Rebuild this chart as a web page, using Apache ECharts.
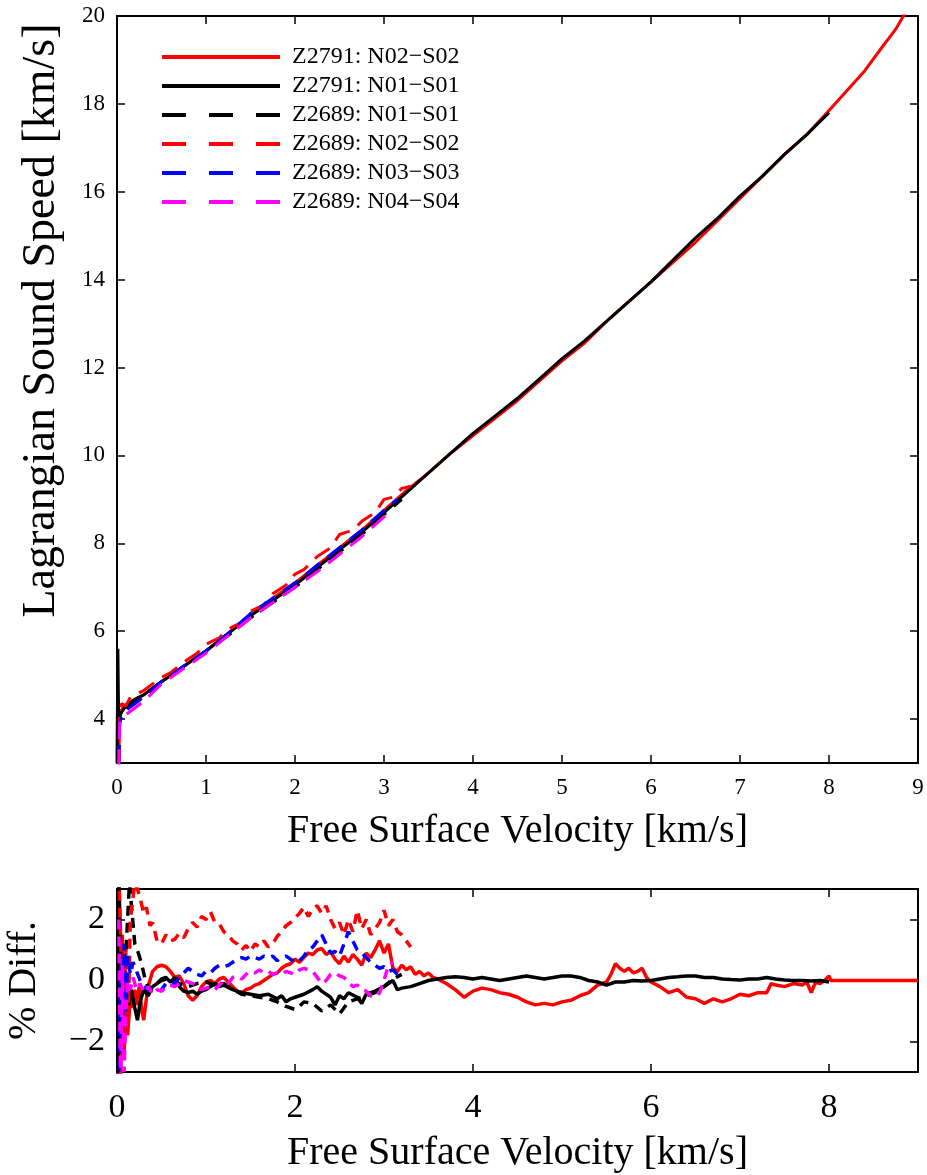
<!DOCTYPE html>
<html>
<head>
<meta charset="utf-8">
<script src="https://cdn.jsdelivr.net/npm/echarts@6/dist/echarts.min.js"></script>
<style>
  html, body { margin: 0; padding: 0; background: #fff; }
  #main { width: 927px; height: 1175px; }
</style>
</head>
<body>
<div id="main"></div>
<script>
// series names (legend order = plot order)
var names = ['Z2791: N02\u2212S02', 'Z2791: N01\u2212S01', 'Z2689: N01\u2212S01',
             'Z2689: N02\u2212S02', 'Z2689: N03\u2212S03', 'Z2689: N04\u2212S04'];
var colors = ['#ff0000', '#000000', '#000000', '#ff0000', '#0000ff', '#ff00ff'];
var dashed = [false, false, true, true, true, true];

// tick labels
var topXTicks = [0, 1, 2, 3, 4, 5, 6, 7, 8, 9];
var topYTicks = [4, 6, 8, 10, 12, 14, 16, 18, 20];
var botXTicks = [0, 2, 4, 6, 8];
var botYTicks = [-2, 0, 2];

// ---- top panel: Lagrangian sound speed vs free surface velocity ----
var zRedX = [0.02,0.03,0.05,0.08,0.1,0.2,0.3,0.4,0.5,0.75,1.0,1.25,1.5,1.75,2.0,2.25,2.5,2.75,3.0,3.25,3.5,3.75,4.0,4.25,4.5,4.75,5.0,5.25,5.5,5.75,6.0,6.25,6.5,6.75,7.0,7.25,7.5,7.75,8.0,8.2,8.4,8.6,8.75,8.85];
var zRedY = [3.0,4.0,4.2,4.3,4.3,4.45,4.55,4.7,4.85,5.2,5.55,5.95,6.35,6.75,7.1,7.5,7.9,8.3,8.75,9.2,9.6,10.05,10.45,10.85,11.25,11.7,12.15,12.55,13.05,13.5,13.95,14.4,14.85,15.35,15.85,16.35,16.85,17.3,17.85,18.3,18.75,19.3,19.7,20.05];

var zBlkX = [0.0,0.01,0.015,0.02,0.05,0.1,0.2,0.3,0.5,0.75,1.0,1.25,1.5,1.75,2.0,2.25,2.5,2.75,3.0,3.25,3.5,3.75,4.0,4.25,4.5,4.75,5.0,5.25,5.5,5.75,6.0,6.25,6.5,6.75,7.0,7.25,7.5,7.75,8.0];
var zBlkY = [3.0,5.6,4.6,4.0,4.15,4.3,4.45,4.55,4.85,5.2,5.55,5.95,6.35,6.7,7.05,7.45,7.85,8.25,8.7,9.15,9.6,10.05,10.5,10.9,11.3,11.75,12.2,12.6,13.05,13.5,13.95,14.45,14.95,15.4,15.9,16.35,16.85,17.3,17.8];

var aBlkX = [0.02,0.03,0.05,0.1,0.2,0.3,0.5,0.75,1.0,1.25,1.5,1.75,2.0,2.25,2.5,2.75,3.0,3.2];
var aBlkY = [3.0,3.95,4.1,4.25,4.4,4.55,4.85,5.2,5.55,5.9,6.3,6.65,7.0,7.4,7.8,8.2,8.65,9.0];

var aRedX = [0.02,0.03,0.05,0.1,0.15,0.2,0.3,0.4,0.5,0.6,0.75,0.9,1.0,1.15,1.25,1.4,1.5,1.65,1.75,1.9,2.0,2.1,2.25,2.4,2.5,2.65,2.75,2.9,3.0,3.1,3.2,3.3];
var aRedY = [3.0,4.1,4.35,4.3,4.5,4.55,4.65,4.8,4.95,5.05,5.3,5.5,5.7,5.85,6.05,6.2,6.45,6.6,6.85,7.05,7.3,7.4,7.7,7.9,8.2,8.3,8.5,8.7,9.0,9.05,9.25,9.3];

var aBluX = [0.02,0.03,0.05,0.1,0.2,0.3,0.5,0.75,1.0,1.25,1.5,1.75,2.0,2.25,2.5,2.75,3.0,3.15];
var aBluY = [3.0,3.9,4.05,4.2,4.35,4.5,4.85,5.2,5.55,5.95,6.4,6.75,7.1,7.5,7.9,8.3,8.75,9.0];

var aMagX = [0.02,0.025,0.03,0.05,0.1,0.2,0.3,0.5,0.75,1.0,1.25,1.5,1.75,2.0,2.25,2.5,2.75,3.0,3.05];
var aMagY = [2.9,3.6,3.9,4.0,4.1,4.25,4.4,4.8,5.15,5.5,5.9,6.3,6.65,7.0,7.35,7.75,8.15,8.6,8.7];

// ---- bottom panel: % difference ----
var dRedX = [0.02,0.04,0.06,0.08,0.1,0.12,0.15,0.18,0.2,0.22,0.25,0.28,0.3,0.33,0.36,0.4,0.45,0.5,0.55,0.6,0.65,0.7,0.75,0.8,0.85,0.9,0.95,1.0,1.05,1.1,1.15,1.2,1.25,1.3,1.35,1.4,1.45,1.5,1.55,1.6,1.65,1.7,1.75,1.8,1.85,1.9,1.95,2.0,2.05,2.1,2.15,2.2,2.25,2.3,2.35,2.4,2.45,2.5,2.55,2.6,2.65,2.7,2.75,2.8,2.85,2.9,2.95,3.0,3.05,3.1,3.15,3.2,3.25,3.3,3.35,3.4,3.45,3.5,3.55,3.6,3.7,3.8,3.9,4.0,4.1,4.2,4.3,4.4,4.5,4.6,4.7,4.8,4.9,5.0,5.1,5.2,5.3,5.4,5.5,5.55,5.6,5.65,5.7,5.75,5.8,5.85,5.9,5.95,6.0,6.1,6.2,6.3,6.4,6.5,6.6,6.7,6.8,6.9,7.0,7.1,7.2,7.3,7.35,7.4,7.5,7.6,7.7,7.75,7.8,7.85,7.9,7.95,8.0,8.02,9.0];
var dRedY = [3.5,-3.5,1.5,-2.5,0.3,-1.8,-0.5,-0.9,-0.3,-0.8,-0.2,-1.0,-1.3,-0.6,-0.1,0.3,0.45,0.5,0.45,0.3,0.1,0.15,-0.1,-0.5,-0.65,-0.5,-0.2,-0.05,0.0,-0.1,0.05,0.1,-0.05,-0.2,-0.35,-0.4,-0.3,-0.25,-0.15,-0.1,0.0,0.1,0.2,0.25,0.4,0.5,0.55,0.7,0.6,0.75,0.9,0.85,1.0,1.05,0.85,0.95,0.7,0.55,0.8,0.6,0.85,0.7,0.5,0.9,0.75,1.0,1.3,0.9,1.2,0.4,0.3,0.5,0.35,0.45,0.2,0.3,0.15,0.25,0.1,0.05,-0.1,-0.3,-0.55,-0.35,-0.25,-0.3,-0.4,-0.45,-0.55,-0.7,-0.8,-0.75,-0.8,-0.7,-0.65,-0.5,-0.4,-0.15,-0.05,0.2,0.55,0.4,0.3,0.4,0.25,0.3,0.4,0.1,-0.05,-0.2,-0.4,-0.3,-0.55,-0.6,-0.75,-0.6,-0.7,-0.6,-0.45,-0.5,-0.4,-0.4,-0.1,-0.15,-0.2,-0.1,-0.15,-0.05,-0.4,-0.05,-0.1,0.0,0.15,0.0,0.0];

var dBlkX = [0.01,0.02,0.04,0.06,0.08,0.1,0.13,0.16,0.2,0.23,0.26,0.3,0.35,0.4,0.45,0.5,0.55,0.6,0.65,0.7,0.75,0.8,0.85,0.9,0.95,1.0,1.05,1.1,1.15,1.2,1.3,1.4,1.5,1.6,1.7,1.8,1.85,1.9,1.95,2.0,2.1,2.2,2.25,2.3,2.4,2.45,2.5,2.55,2.6,2.7,2.75,2.8,2.9,3.0,3.05,3.1,3.15,3.2,3.3,3.4,3.5,3.6,3.7,3.8,3.9,4.0,4.1,4.2,4.3,4.4,4.5,4.6,4.7,4.8,4.9,5.0,5.1,5.2,5.3,5.4,5.5,5.6,5.7,5.8,5.9,6.0,6.1,6.2,6.3,6.4,6.5,6.6,6.7,6.8,6.9,7.0,7.1,7.2,7.3,7.4,7.5,7.6,7.7,7.8,7.9,8.0];
var dBlkY = [-3.5,3.5,1.0,-1.0,0.5,-0.3,-0.8,-0.3,-0.9,-1.3,-0.7,-0.3,-0.5,-0.2,-0.1,0.05,0.1,-0.05,0.1,-0.2,-0.35,-0.4,-0.35,-0.45,-0.35,-0.3,-0.2,-0.1,-0.2,-0.15,-0.3,-0.4,-0.45,-0.5,-0.45,-0.6,-0.5,-0.7,-0.6,-0.55,-0.45,-0.3,-0.2,-0.35,-0.55,-0.8,-0.5,-0.6,-0.4,-0.55,-0.75,-0.45,-0.35,-0.2,-0.1,0.0,-0.3,-0.25,-0.2,-0.1,0.0,0.05,0.1,0.12,0.1,0.05,0.1,0.05,0.0,0.05,0.1,0.15,0.1,0.05,0.1,0.15,0.15,0.1,0.0,-0.05,-0.15,-0.05,-0.05,0.0,-0.02,0.0,0.05,0.1,0.12,0.15,0.15,0.1,0.1,0.05,0.03,0.02,0.05,0.05,0.1,0.05,0.02,0.0,0.0,-0.02,0.0,-0.05];

var dBkdX = [0.02,0.05,0.08,0.11,0.14,0.17,0.2,0.24,0.28,0.32,0.36,0.4,0.45,0.5,0.55,0.6,0.7,0.8,0.9,1.0,1.1,1.2,1.3,1.4,1.5,1.6,1.7,1.8,1.9,2.0,2.05,2.1,2.2,2.3,2.35,2.4,2.5,2.55,2.6,2.7,2.8,2.9,3.0,3.1,3.2];
var dBkdY = [-2.0,0.5,-0.5,1.5,3.2,2.2,1.2,0.9,0.5,0.0,-0.3,-0.2,-0.1,0.0,0.05,-0.05,-0.1,-0.2,-0.1,-0.05,-0.15,-0.1,-0.3,-0.45,-0.5,-0.55,-0.6,-0.7,-0.85,-0.95,-0.85,-0.7,-0.75,-1.0,-0.9,-0.8,-1.1,-0.9,-0.7,-0.6,-0.5,-0.4,-0.2,0.05,0.2];

var dRdX = [0.02,0.05,0.08,0.1,0.13,0.15,0.2,0.23,0.26,0.3,0.33,0.37,0.4,0.45,0.5,0.55,0.6,0.65,0.7,0.75,0.8,0.85,0.9,0.95,1.0,1.05,1.1,1.15,1.2,1.25,1.3,1.35,1.4,1.45,1.5,1.55,1.6,1.65,1.7,1.75,1.8,1.85,1.9,1.95,2.0,2.05,2.1,2.15,2.2,2.25,2.3,2.35,2.4,2.45,2.5,2.55,2.6,2.65,2.7,2.75,2.8,2.85,2.9,2.95,3.0,3.05,3.1,3.15,3.2,3.25,3.3];
var dRdY = [3.5,0.5,-1.5,1.0,-0.8,2.0,3.2,3.0,2.7,2.2,2.4,1.8,1.9,1.3,1.2,1.5,1.3,1.35,1.55,1.4,1.7,1.9,1.75,2.1,2.0,2.25,1.9,1.85,1.6,1.5,1.3,1.2,1.0,1.15,0.95,1.2,1.1,1.3,1.1,1.2,1.45,1.6,1.8,1.9,2.05,2.2,2.4,2.1,2.35,2.45,2.2,2.45,2.0,1.7,1.9,1.5,2.0,1.6,2.3,1.7,2.0,1.5,1.7,1.9,2.3,1.8,2.0,1.6,1.5,1.3,1.1];

var dBluX = [0.02,0.04,0.06,0.08,0.1,0.12,0.15,0.18,0.22,0.26,0.3,0.35,0.4,0.45,0.5,0.55,0.6,0.65,0.7,0.75,0.8,0.85,0.9,0.95,1.0,1.05,1.1,1.15,1.2,1.25,1.3,1.35,1.4,1.45,1.5,1.55,1.6,1.65,1.7,1.75,1.8,1.85,1.9,1.95,2.0,2.05,2.1,2.15,2.2,2.25,2.3,2.35,2.4,2.45,2.5,2.55,2.6,2.65,2.7,2.75,2.8,2.85,2.9,2.95,3.0,3.05,3.1,3.15,3.2];
var dBluY = [-3.5,0.5,-2.0,1.2,-1.0,0.8,0.2,0.6,0.3,0.0,-0.2,-0.3,-0.35,-0.4,-0.3,-0.1,-0.05,-0.1,0.1,0.25,0.4,0.3,0.2,0.15,0.3,0.25,0.4,0.5,0.45,0.5,0.6,0.7,0.75,0.7,0.8,0.75,0.7,0.8,0.75,0.8,0.65,0.75,0.8,0.7,0.6,0.65,0.8,1.0,1.1,1.3,1.5,1.2,0.9,0.95,0.8,1.2,1.6,1.3,1.0,0.9,0.75,0.6,0.5,0.4,0.45,0.3,0.35,0.2,0.3];

var dMagX = [0.02,0.04,0.06,0.08,0.1,0.12,0.15,0.18,0.22,0.26,0.3,0.35,0.4,0.45,0.5,0.55,0.6,0.65,0.7,0.75,0.8,0.85,0.9,0.95,1.0,1.05,1.1,1.15,1.2,1.25,1.3,1.35,1.4,1.45,1.5,1.55,1.6,1.65,1.7,1.75,1.8,1.85,1.9,1.95,2.0,2.05,2.1,2.15,2.2,2.25,2.3,2.35,2.4,2.45,2.5,2.55,2.6,2.65,2.7,2.75,2.8,2.85,2.9,2.95,3.0,3.05,3.1];
var dMagY = [2.0,-3.5,0.5,-3.0,-1.0,0.0,-0.3,0.1,-0.3,-0.1,-0.4,-0.2,-0.45,-0.3,-0.35,-0.2,-0.15,-0.2,-0.1,0.0,-0.05,-0.1,-0.2,-0.3,-0.25,-0.2,-0.3,-0.15,0.0,-0.1,0.1,0.15,0.05,0.2,0.3,0.25,0.35,0.25,0.3,0.2,0.25,0.2,0.3,0.25,0.2,0.35,0.4,0.35,0.3,0.1,-0.1,0.0,0.2,0.25,0.15,0.1,-0.05,-0.2,-0.15,-0.3,-0.35,-0.5,-0.55,-0.4,0.0,0.5,0.6];

var topXs = [zRedX, zBlkX, aBlkX, aRedX, aBluX, aMagX];
var topYs = [zRedY, zBlkY, aBlkY, aRedY, aBluY, aMagY];
var botXs = [dRedX, dBlkX, dBkdX, dRdX, dBluX, dMagX];
var botYs = [dRedY, dBlkY, dBkdY, dRdY, dBluY, dMagY];

var FONT = 'Liberation Serif';

function pairs(xs, ys) {
    var out = [];
    for (var i = 0; i < xs.length; i++) {
        out.push([xs[i], ys[i]]);
    }
    return out;
}

function minus(v) {
    return String(v).replace('-', '\u2212');
}

function valueAxis(grid, pos, min, max, ticks, fontSize, margin, showLabel) {
    return {
        type: 'value',
        gridIndex: grid,
        position: pos,
        min: min,
        max: max,
        axisLine: {show: true, onZero: false, lineStyle: {color: '#000', width: 2}},
        axisTick: {show: true, inside: true, length: 8, customValues: ticks,
                   lineStyle: {color: '#000', width: 1.5}},
        axisLabel: {show: showLabel, customValues: ticks, color: '#000',
                    fontFamily: FONT, fontSize: fontSize, margin: margin, formatter: minus},
        splitLine: {show: false}
    };
}

var chart = echarts.init(document.getElementById('main'));

var xAxes = [
    valueAxis(0, 'bottom', 0, 9, topXTicks, 23, 13, true),
    valueAxis(0, 'top', 0, 9, topXTicks, 23, 13, false),
    valueAxis(1, 'bottom', 0, 9, botXTicks, 34, 19, true),
    valueAxis(1, 'top', 0, 9, botXTicks, 34, 19, false)
];
var yAxes = [
    valueAxis(0, 'left', 3, 20, topYTicks, 23, 12, true),
    valueAxis(0, 'right', 3, 20, topYTicks, 23, 12, false),
    valueAxis(1, 'left', -3, 3, botYTicks, 34, 12, true),
    valueAxis(1, 'right', -3, 3, botYTicks, 34, 12, false)
];

// axis titles
var titleStyle = {color: '#000', fontFamily: FONT, fontSize: 40};
xAxes[0].name = 'Free Surface Velocity [km/s]';
xAxes[0].nameLocation = 'middle';
xAxes[0].nameGap = 48;
xAxes[0].nameTextStyle = titleStyle;
xAxes[2].name = 'Free Surface Velocity [km/s]';
xAxes[2].nameLocation = 'middle';
xAxes[2].nameGap = 61;
xAxes[2].nameTextStyle = titleStyle;
yAxes[0].name = 'Lagrangian Sound Speed [km/s]';
yAxes[0].nameLocation = 'middle';
yAxes[0].nameGap = 52;
yAxes[0].nameTextStyle = {color: '#000', fontFamily: FONT, fontSize: 46, padding: [0, 0, 0, 138]};
yAxes[2].name = '% Diff.';
yAxes[2].nameLocation = 'middle';
yAxes[2].nameGap = 73;
yAxes[2].nameTextStyle = titleStyle;

var series = [];
for (var i = 0; i < names.length; i++) {
    series.push({
        name: names[i],
        type: 'line',
        xAxisIndex: 0,
        yAxisIndex: 0,
        symbol: 'none',
        data: pairs(topXs[i], topYs[i]),
        lineStyle: {color: colors[i], width: 3, type: dashed[i] ? [18, 10] : 'solid'},
        itemStyle: {color: colors[i]},
        z: 2 + i
    });
}
for (var j = 0; j < names.length; j++) {
    series.push({
        name: names[j],
        type: 'line',
        xAxisIndex: 2,
        yAxisIndex: 2,
        symbol: 'none',
        data: pairs(botXs[j], botYs[j]),
        lineStyle: {color: colors[j], width: 3.5, type: dashed[j] ? [10, 7] : 'solid'},
        itemStyle: {color: colors[j]},
        z: 2 + j
    });
}

var legendData = [];
for (var k = 0; k < names.length; k++) {
    legendData.push({
        name: names[k],
        itemStyle: {opacity: 0},
        lineStyle: {color: colors[k], width: 4, type: dashed[k] ? [24, 23] : 'solid'}
    });
}

chart.setOption({
    animation: false,
    backgroundColor: '#fff',
    grid: [
        {left: 117, top: 16, width: 801, height: 747, outerBoundsMode: 'none'},
        {left: 117, top: 889, width: 801, height: 183, outerBoundsMode: 'none'}
    ],
    legend: {
        data: legendData,
        orient: 'vertical',
        left: 160,
        top: 45,
        padding: 0,
        itemWidth: 118,
        itemHeight: 14,
        itemGap: 5,
        selectedMode: false,
        textStyle: {color: '#000', fontFamily: FONT, fontSize: 24,
                    padding: [0, 0, 0, 7]}
    },
    xAxis: xAxes,
    yAxis: yAxes,
    series: series
});
</script>
</body>
</html>
